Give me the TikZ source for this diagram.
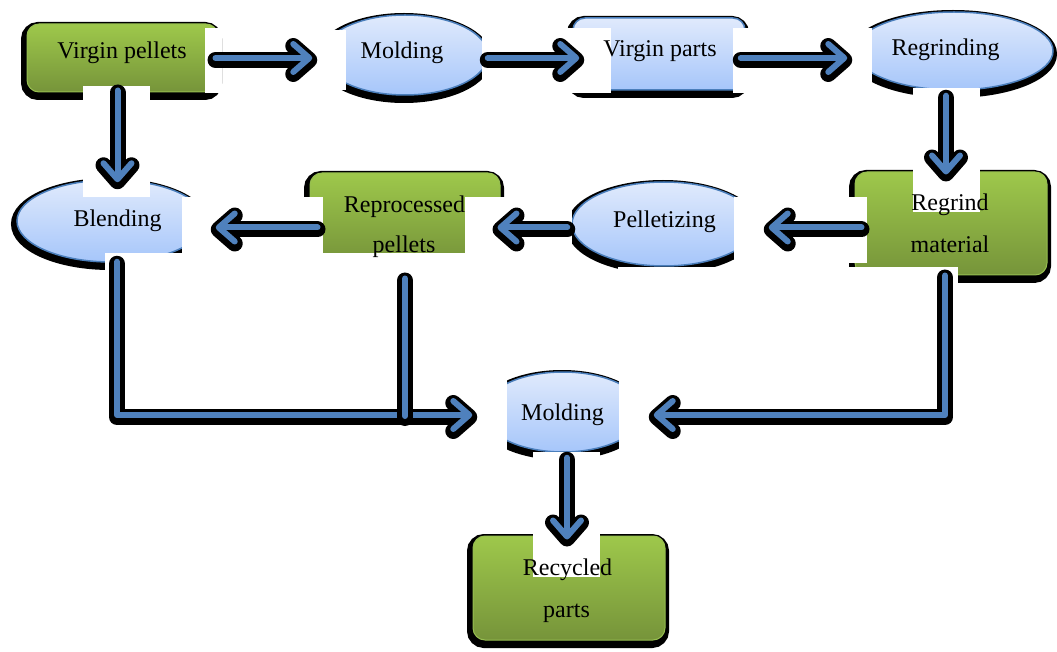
\documentclass[tikz,border=0pt]{standalone}
\usepackage{fontspec}
\setmainfont{Liberation Serif}
\usetikzlibrary{shapes.geometric,arrows.meta,shadows,calc}

\definecolor{greenTop}{RGB}{158,200,75}
\definecolor{greenBot}{RGB}{118,148,58}
\definecolor{greenEdge}{RGB}{150,190,80}
\definecolor{blueTop}{RGB}{224,234,252}
\definecolor{blueBot}{RGB}{166,198,250}
\definecolor{blueEdge}{RGB}{74,126,187}
\definecolor{flowBlue}{RGB}{79,129,189}

\tikzset{
  boxshadow/.style={general shadow={fill=black, draw=black, line width=10pt,
      shadow xshift=-1pt, shadow yshift=-3pt}},
  greenbox/.style={rectangle, rounded corners=12pt, top color=greenTop,
      bottom color=greenBot, draw=greenEdge, line width=1pt, inner sep=0pt, boxshadow},
  bluebox/.style={rectangle, rounded corners=12pt, top color=blueTop,
      bottom color=blueBot, draw=blueEdge, line width=1.5pt, inner sep=0pt, boxshadow},
  blueoval/.style={ellipse, top color=blueTop, bottom color=blueBot,
      draw=blueEdge, line width=1.5pt, inner sep=0pt, boxshadow},
  lbl/.style={font=\fontsize{24}{28}\selectfont, inner sep=0pt, anchor=base},
  patch/.style={fill=white, draw=none},
  flowback/.style={draw=black, line width=16pt, line cap=round, line join=round,
      transform canvas={yshift=-2pt}},
  flowfront/.style={draw=flowBlue, line width=6pt, line cap=round, line join=round},
  tipback/.style={-{Straight Barb[length=16pt,width=28pt,round]}},
  tipfront/.style={-{Straight Barb[length=16pt,width=28pt,round]}, shorten >=5pt},
}

% outlined flow arrow: black casing under a blue core
\newcommand\flowarrow[1]{\draw[flowback,tipback] #1; \draw[flowfront,tipfront] #1;}
\newcommand\flowplain[1]{\draw[flowback] #1; \draw[flowfront] #1;}

\begin{document}
\begin{tikzpicture}[x=1pt,y=-1pt]
\useasboundingbox (0,0) rectangle (1057,652);

% ---- process shapes ----
\node[greenbox, minimum width=191pt, minimum height=68pt]  (vpel)   at (122.5,58)  {};
\node[blueoval, minimum width=166pt, minimum height=80pt]  (mold1)  at (405,55)    {};
\node[bluebox,  minimum width=172pt, minimum height=72pt]  (vpart)  at (659,54)    {};
\node[blueoval, minimum width=198pt, minimum height=78pt]  (regr)   at (954,51)    {};
\node[blueoval, minimum width=188pt, minimum height=82pt]  (blend)  at (111,221)   {};
\node[greenbox, minimum width=190pt, minimum height=89pt]  (repel)  at (405,217.5) {};
\node[blueoval, minimum width=184pt, minimum height=84pt]  (pellet) at (664,224)   {};
\node[greenbox, minimum width=192pt, minimum height=103pt] (regmat) at (951,223.5) {};
\node[blueoval, minimum width=160pt, minimum height=80pt]  (mold2)  at (563,412)   {};
\node[greenbox, minimum width=192pt, minimum height=104pt] (recyc)  at (569,588)   {};

% ---- white text backgrounds ----
\fill[patch] (205,28) rectangle (222,93);
\fill[patch] (83,86) rectangle (150,197);
\fill[patch] (315,30) rectangle (346,90);
\fill[patch] (482,8) rectangle (500,108);
\fill[patch] (565,28) rectangle (611,93);
\fill[patch] (733,28) rectangle (752,93);
\fill[patch] (840,28) rectangle (872,93);
\fill[patch] (913,88) rectangle (980,212);
\fill[patch] (182,197) rectangle (323,253);
\fill[patch] (465,197) rectangle (572,253);
\fill[patch] (105,253) rectangle (507,275);
\fill[patch] (734,197) rectangle (867,263);
\fill[patch] (618,267) rectangle (958,292);
\fill[patch] (476,365) rectangle (507,452);
\fill[patch] (619,365) rectangle (650,452);
\fill[patch] (533,452) rectangle (600,577);

% ---- connectors ----
\coordinate (junc) at (405,416);
\flowarrow{($(vpel.east)+(-3,0)$) -- ($(mold1.west)+(-4,3)$)}
\flowarrow{($(mold1.east)+(-1,3)$) -- ($(vpart.west)+(12,4)$)}
\flowarrow{($(vpart.east)+(-5,4)$) -- ($(regr.west)+(-2,7)$)}
\flowarrow{($(regr.south)+(-8,5)$) -- ($(regmat.north)+(-5,8)$)}
\flowarrow{($(vpel.south)+(-5,-2)$) -- ($(blend.north)+(6.5,8)$)}
\flowarrow{($(regmat.west)+(7,4)$) -- ($(pellet.east)+(7,3.5)$)}
\flowarrow{($(pellet.west)+(-4,3.5)$) -- ($(repel.east)+(-8,10)$)}
\flowarrow{($(repel.west)+(8,10)$) -- ($(blend.east)+(5,6.5)$)}
\flowarrow{($(blend.south)+(6,-1)$) |- ($(mold2.west)+(-5,3)$)}
\flowarrow{($(regmat.south)+(-6,0)$) |- ($(mold2.east)+(5,3)$)}
\flowplain{($(repel.south)+(0,16)$) -- (junc)}
\flowarrow{($(mold2.south)+(4,5)$) -- ($(recyc.north)+(-2,9)$)}

% ---- labels ----
\node[lbl] (t-vpel)  at (122,59)   {Virgin pellets};
\node[lbl] (t-mold1) at (402,59)   {Molding};
\node[lbl] (t-vpart) at (660,57)   {Virgin parts};
\node[lbl] (t-regr)  at (945.5,56) {Regrinding};
\node[lbl] (t-blend) at (117.5,227) {Blending};
\node[lbl] (t-rep1)  at (404.5,213) {Reprocessed};
\node[lbl] (t-rep2)  at (404,253)  {pellets};
\node[lbl] (t-pel)   at (664.5,228) {Pelletizing};
\node[lbl] (t-rgm1)  at (950,211)  {Regrind};
\node[lbl] (t-rgm2)  at (950,253)  {material};
\node[lbl] (t-mold2) at (562.5,420) {Molding};
\node[lbl] (t-rec1)  at (567.5,575) {Recycled};
\node[lbl] (t-rec2)  at (566.5,617) {parts};
\end{tikzpicture}
\end{document}
